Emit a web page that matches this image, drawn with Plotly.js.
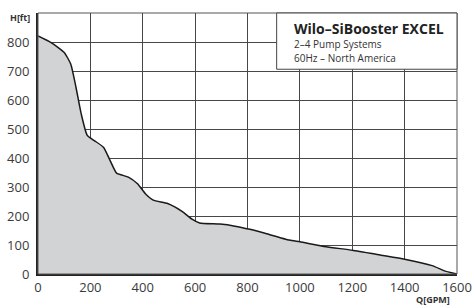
<!DOCTYPE html>
<html>
<head>
<meta charset="utf-8">
<script src="https://cdn.plot.ly/plotly-3.0.1.min.js"></script>
<style>html,body{margin:0;padding:0;background:#fff;}#chart{width:474px;height:305px;}</style>
</head>
<body>
<div id="chart"></div>
<script>
// Flow Q [GPM] and head H [ft] of the performance envelope
const flowGPM = [0, 50, 100, 125, 145, 165, 188, 215, 250, 275, 300, 345, 380, 410, 440, 495, 550, 588, 617, 695, 752, 809, 860, 960, 1000, 1100, 1200, 1310, 1400, 1505, 1555, 1600];
const headFt  = [821, 798, 764, 724, 644, 552, 478, 460, 437, 392, 348, 334, 311, 277, 255, 243, 216, 189, 176, 172, 165, 154, 142, 117, 111, 94, 82, 65, 51, 29, 10, 0];
const xTicks = [0, 200, 400, 600, 800, 1000, 1200, 1400, 1600];
const yTicks = [0, 100, 200, 300, 400, 500, 600, 700, 800];
const titleText = "Wilo–SiBooster EXCEL";
const subLines = ["2–4 Pump Systems", "60Hz – North America"];

const font = "'Open Sans', 'Noto Sans', sans-serif";
const data = [{
  x: flowGPM, y: headFt, type: 'scatter', mode: 'lines',
  line: {color: '#1a1a1a', width: 1.5, shape: 'spline', smoothing: 0.5},
  fill: 'tozeroy', fillcolor: '#d2d3d5', hoverinfo: 'skip'
}];
const layout = {
  width: 474, height: 305,
  margin: {l: 38, r: 17, t: 13, b: 31, pad: 0},
  paper_bgcolor: '#fff', plot_bgcolor: '#fff',
  showlegend: false,
  font: {family: font, color: '#3a3a3a', size: 13},
  xaxis: {
    range: [0, 1600], tickvals: xTicks, ticktext: xTicks.map(String),
    showgrid: true, gridcolor: '#474747', gridwidth: 1,
    showline: true, linecolor: '#222', linewidth: 2,
    zeroline: false, ticks: '', ticklen: 0,
    tickfont: {family: font, size: 13, color: '#3a3a3a'}, fixedrange: true
  },
  yaxis: {
    range: [0, 900], tickvals: yTicks, ticktext: yTicks.map(String),
    showgrid: true, gridcolor: '#474747', gridwidth: 1,
    showline: true, linecolor: '#222', linewidth: 2,
    zeroline: false, ticks: '', ticklen: 0, ticklabelstandoff: 4,
    tickfont: {family: font, size: 13, color: '#3a3a3a'}, fixedrange: true
  },
  shapes: [
    {type: 'rect', xref: 'paper', yref: 'paper', x0: 0, x1: 1, y0: 0, y1: 1,
     line: {color: '#555', width: 1}, fillcolor: 'rgba(0,0,0,0)', layer: 'above'},
    {type: 'rect', xref: 'paper', yref: 'paper', x0: 0.5696, x1: 1, y0: 0.7845, y1: 1,
     line: {color: '#444', width: 1}, fillcolor: '#fff', layer: 'above'}
  ],
  annotations: [
    {text: '<b>H[ft]</b>', xref: 'paper', yref: 'paper', x: -0.0143, y: 0.981,
     xanchor: 'right', yanchor: 'middle', showarrow: false,
     font: {family: font, size: 9, color: '#333'}},
    {text: '<b>Q[GPM]</b>', xref: 'paper', yref: 'paper', x: 0.987, y: -0.096,
     xanchor: 'right', yanchor: 'middle', showarrow: false,
     font: {family: font, size: 9, color: '#333'}},
    {text: '<b>' + titleText + '</b>', xref: 'paper', yref: 'paper', x: 0.6053, y: 0.9414,
     xanchor: 'left', yanchor: 'middle', showarrow: false,
     font: {family: font, size: 14, color: '#222'}},
    {text: subLines[0], xref: 'paper', yref: 'paper', x: 0.6053, y: 0.8828,
     xanchor: 'left', yanchor: 'middle', showarrow: false,
     font: {family: font, size: 10, color: '#333'}},
    {text: subLines[1], xref: 'paper', yref: 'paper', x: 0.6053, y: 0.8293,
     xanchor: 'left', yanchor: 'middle', showarrow: false,
     font: {family: font, size: 10, color: '#333'}}
  ]
};
Plotly.newPlot('chart', data, layout, {staticPlot: true, displayModeBar: false});
</script>
</body>
</html>
